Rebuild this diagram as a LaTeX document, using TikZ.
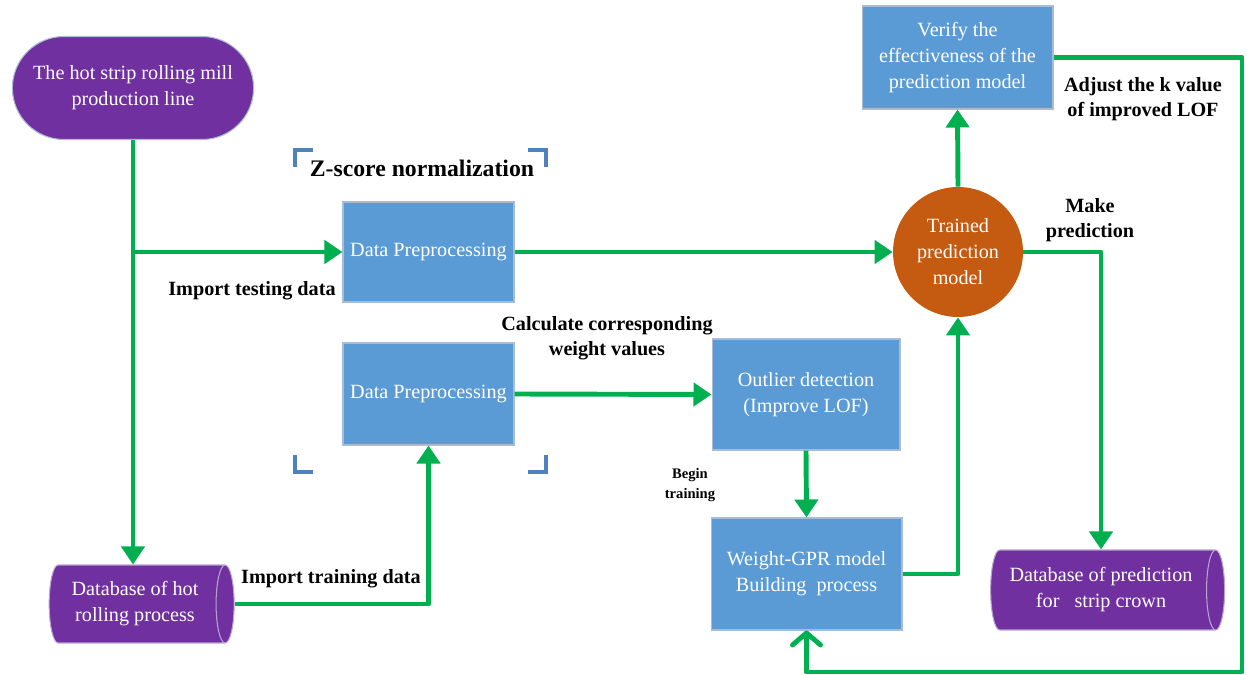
\documentclass[tikz,border=0pt]{standalone}
\usepackage{fontspec}
\setmainfont{Liberation Serif}
\usetikzlibrary{shapes.geometric,shapes.misc,arrows.meta}

\definecolor{procblue}{HTML}{5B9BD5}
\definecolor{procedge}{HTML}{A9BCD3}
\definecolor{dbpurple}{HTML}{7030A0}
\definecolor{dbedge}{HTML}{B9A3CF}
\definecolor{modelorange}{HTML}{C55A11}
\definecolor{flowgreen}{HTML}{00B050}
\definecolor{markblue}{HTML}{4F81BD}

\tikzset{
  boxfont/.style={font=\fontsize{11.5}{14.8}\selectfont},
  procbox/.style={draw=procedge, line width=0.6pt, fill=procblue, text=white, align=center, boxfont, inner sep=2pt},
  dbnode/.style={cylinder, shape aspect=0.35, draw=dbedge, line width=0.6pt, cylinder uses custom fill,
    cylinder body fill=dbpurple, cylinder end fill=dbpurple, text=white, align=center, boxfont, inner sep=2pt},
  flow/.style={draw=flowgreen, line width=2.8pt, line join=round, -{Triangle[length=0.36cm,width=0.46cm]}},
  lbl/.style={font=\bfseries\fontsize{11.5}{14.2}\selectfont, align=center},
  cornermark/.style={draw=markblue, line width=2.2pt}
}

\begin{document}
\begin{tikzpicture}[x=0.02cm,y=-0.02cm]
    \useasboundingbox (0,0) rectangle (1247,675);
    % boxes
    \node[rounded rectangle, fill=dbpurple, draw=procedge, line width=0.6pt, text=white, align=center, boxfont,
      minimum width=5.06cm, minimum height=2.06cm] at (133,88) (mill) {The hot strip rolling mill\\production line};
    \node[dbnode, minimum height=3.7cm, minimum width=1.56cm] at (135,604) (dbhot) {Database of hot\\rolling process};
    \node[procbox, minimum width=3.42cm, minimum height=2cm] at (428.5,252) (prep1) {Data Preprocessing};
    \node[procbox, minimum width=3.42cm, minimum height=2.04cm] at (428.5,394) (prep2) {Data Preprocessing};
    \node[circle, fill=modelorange, text=white, align=center, boxfont, inner sep=0pt, minimum size=2.6cm] at (958,252) (model) {Trained\\prediction\\model};
    \node[procbox, minimum width=3.82cm, minimum height=2.06cm] at (957.5,57.5) (verify) {Verify the\\effectiveness of the\\prediction model};
    \node[procbox, minimum width=3.76cm, minimum height=2.22cm] at (806,394.5) (outlier) {Outlier detection\\(Improve LOF)};
    \node[procbox, minimum width=3.82cm, minimum height=2.24cm] at (806.5,574) (gpr) {Weight-GPR model\\Building\ \ process};
    \node[dbnode, minimum height=4.68cm, minimum width=1.6cm] at (1101,590) (dbpred) {Database of prediction\\for\ \ \ strip crown};
    \coordinate (loop) at (1242,672);

    % Z-score frame
    \node[lbl, font=\bfseries\fontsize{13.5}{16}\selectfont] at (422,168) (zscore) {Z-score normalization};
    \draw[cornermark] (295,167) -- (295,150) -- (313,150);
    \draw[cornermark] (528,150) -- (546,150) -- (546,167);
    \draw[cornermark] (295,455) -- (295,472) -- (313,472);
    \draw[cornermark] (528,472) -- (546,472) -- (546,455);

    % flows
    \draw[flow] (mill.south) -- (mill.south |- dbhot.north);
    \draw[flow] (mill.south |- prep1.west) -- (prep1.west);
    \draw[flow] (dbhot.east) -| (prep2.south);
    \draw[flow] (prep1.east) -- (model.west);
    \draw[flow] (prep2.east) -- (outlier.west);
    \draw[flow] (outlier.south) -- (gpr.north);
    \draw[flow] (gpr.east) -| (model.south);
    \draw[flow] (model.north) -- (verify.south);
    \draw[flow] (model.east) -| (dbpred.north);
    \draw[flow, -{Straight Barb[length=0.24cm,width=0.56cm,round]}] (verify.east) -| (loop) -| (gpr.south);

    % labels
    \node[lbl] at (252,291) (ltest) {Import testing data};
    \node[lbl] at (331,579) (ltrain) {Import training data};
    \node[lbl] at (607,338) (lweight) {Calculate corresponding\\weight values};
    \node[lbl, font=\bfseries\fontsize{8.3}{11.5}\selectfont] at (690,485) (lbegin) {Begin\\training};
    \node[lbl] at (1090,220) (lmake) {Make\\prediction};
    \node[lbl] at (1143,99) (ladjust) {Adjust the k value\\of improved LOF};
\end{tikzpicture}
\end{document}
